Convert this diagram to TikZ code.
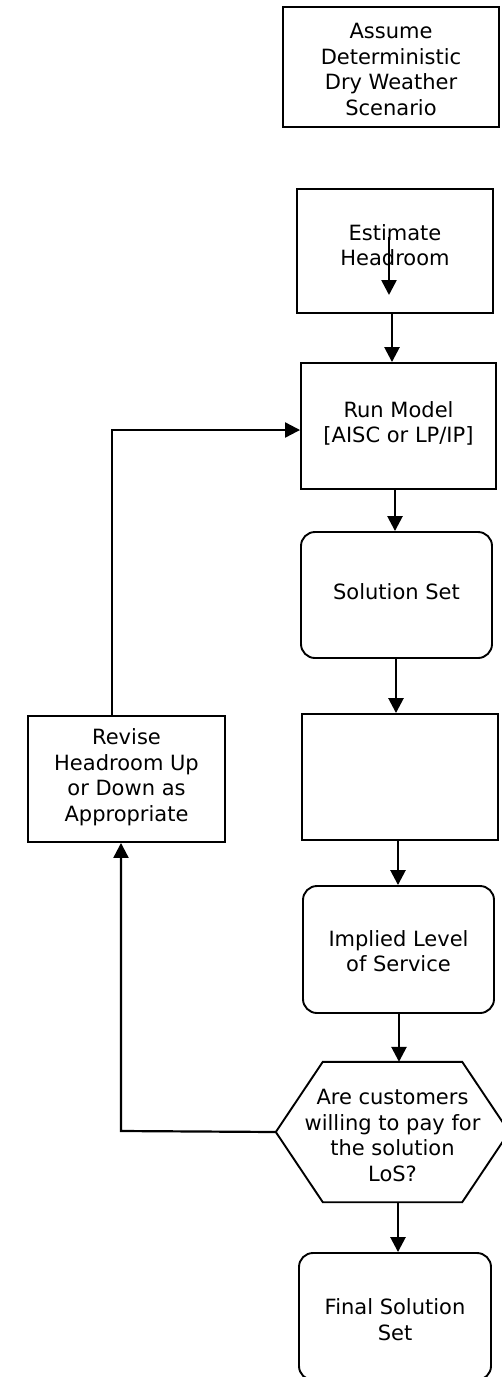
\documentclass[tikz,border=0pt]{standalone}
\usepackage{fontspec}
\setmainfont{DejaVu Sans}
\usetikzlibrary{arrows.meta,calc}
\begin{document}
\begin{tikzpicture}[x=1pt,y=-1pt,
  box/.style={draw,line width=1.9pt,align=center,font=\fontsize{21}{25.5}\selectfont,inner sep=0pt},
  rbox/.style={box,rounded corners=14pt},
  tip/.style={-{Triangle[length=15pt,width=15pt]}},
  arr/.style={line width=2.6pt,tip},
  fbarr/.style={line width=2.2pt,tip}]
\useasboundingbox (0,0) rectangle (502,1377);
\node[box,minimum width=216pt,minimum height=120pt] (assume) at (391,67) {Assume\\Deterministic\\Dry Weather\\Scenario\\[-30.5pt]};
\node[box,minimum width=196pt,minimum height=124pt] (est) at (395,251) {Estimate\\Headroom\\[-13.5pt]};
\node[box,minimum width=195pt,minimum height=126pt] (run) at (398.5,426) {Run Model\\{}[AISC or LP/IP]\\[-17.5pt]};
\node[rbox,minimum width=191pt,minimum height=126pt] (sol) at (396.5,595) {Solution Set\\[-19.5pt]};
\node[box,minimum width=196pt,minimum height=126pt] (empty) at (400,777) {};
\node[box,minimum width=197pt,minimum height=126pt] (rev) at (126.5,779) {Revise\\Headroom Up\\or Down as\\Appropriate\\[-17.5pt]};
\node[rbox,minimum width=191pt,minimum height=127pt] (impl) at (398.5,949.5) {Implied Level\\of Service\\[-28.5pt]};
\node[align=center,font=\fontsize{21}{25.5}\selectfont,inner sep=0pt,minimum width=233pt,minimum height=140pt] (hex) at (392.5,1132) {Are customers\\willing to pay for\\the solution\\LoS?\\[-32.5pt]};
\draw[line width=1.9pt,line join=miter] (hex.west) -- ($(hex.north west)+(47,0)$) -- ($(hex.north east)+(-47,0)$) -- (hex.east) -- ($(hex.south east)+(-47,0)$) -- ($(hex.south west)+(47,0)$) -- cycle;
\node[rbox,minimum width=192pt,minimum height=127pt] (final) at (395,1316.5) {Final Solution\\Set\\[-31.5pt]};
% connector x positions
\coordinate (xa) at (392,0);
\coordinate (xb) at (395,0);
\coordinate (xc) at (396,0);
\coordinate (xd) at (398,0);
\coordinate (xe) at (399,0);
\coordinate (xf) at (398,0);
\coordinate (fb1) at (121,1131);
\coordinate (fb2) at (112,430);
\draw[arr] ($(est.center)+(-6,-14)$) -- ($(est.center)+(-6,44)$);
\draw[arr] (est.south -| xa) -- (run.north -| xa);
\draw[arr] (run.south -| xb) -- (sol.north -| xb);
\draw[arr] (sol.south -| xc) -- (empty.north -| xc);
\draw[arr] (empty.south -| xd) -- (impl.north -| xd);
\draw[arr] (impl.south -| xe) -- (hex.north -| xe);
\draw[arr] (hex.south -| xf) -- (final.north -| xf);
\draw[fbarr] (hex.west) -- (fb1) -- (fb1 |- rev.south);
\draw[fbarr] (rev.north -| fb2) -- (fb2) -- (fb2 -| run.west);
\end{tikzpicture}
\end{document}
